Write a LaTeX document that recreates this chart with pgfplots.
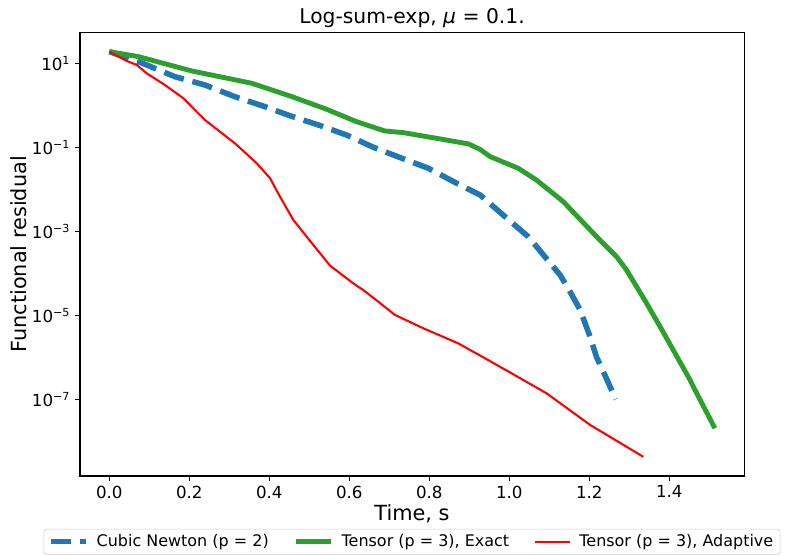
\documentclass[border=0pt]{standalone}
\usepackage{fontspec}
\setmainfont{DejaVu Sans}
\usepackage{pgfplots}
\pgfplotsset{compat=1.18}
\definecolor{c0}{HTML}{1F77B4}
\definecolor{c2}{HTML}{2CA02C}
\begin{document}
\begin{tikzpicture}
\begin{axis}[
  scale only axis, width=478.1pt, height=319.2pt,
  xmin=-0.0733, xmax=1.587,
  ymode=log, ymin=1.49e-9, ymax=53.6,
  axis line style={line width=0.8pt},
  tick align=outside, major tick length=3.5pt,
  tick style={black, line width=0.8pt},
  xtick pos=bottom, ytick pos=left,
  xtick={0,0.2,0.4,0.6,0.8,1.0,1.2,1.4},
  xticklabels={0.0,0.2,0.4,0.6,0.8,1.0,1.2,1.4},
  ytick={1e1,1e-1,1e-3,1e-5,1e-7},
  yticklabels={10\textsuperscript{1},10\textsuperscript{−1},10\textsuperscript{−3},10\textsuperscript{−5},10\textsuperscript{−7}},
  yminorticks=false,
  ticklabel style={font=\fontsize{12}{14}\selectfont},
  xlabel={Time, s},
  ylabel={Functional residual},
  label style={font=\fontsize{15}{18}\selectfont},
  xlabel style={at={(axis description cs:0.5,-0.0993)}, anchor=base},
  ylabel style={at={(axis description cs:-0.092,0.5)}, anchor=center},
  title={Log-sum-exp, {\itshape μ} = 0.1.},
  title style={font=\fontsize{14.6}{17}\selectfont, at={(axis description cs:0.5,1)}, anchor=base, yshift=0.8pt},
  legend style={at={(axis description cs:0.5,-0.119)}, anchor=north, legend columns=3,
    draw=black!20, rounded corners=2pt, font=\fontsize{11.5}{14}\selectfont,
    /tikz/every odd column/.append style={column sep=4pt},
    /tikz/every even column/.append style={column sep=16pt}},
  legend image code/.code={\draw[#1] (0pt,0pt) -- (25pt,0pt);},
]
\addplot[c0, line width=4pt, dash pattern=on 14.8pt off 6.4pt] coordinates {
(0,18.9) (0.0725,11.0) (0.164,4.79) (0.239,3.04) (0.314,1.60) (0.389,0.927)
(0.452,0.562) (0.5225,0.34) (0.593,0.196) (0.66,0.1) (0.731,0.055) (0.7975,0.0316)
(0.8685,0.0139) (0.927,7.31e-3) (0.989,2.24e-3) (1.0475,7.41e-4) (1.127,9.12e-5)
(1.152,3.63e-5) (1.177,1.35e-5) (1.202,3.09e-6) (1.218,1.02e-6) (1.235,4.57e-7) (1.266,1.0e-7)
};
\addlegendentry{Cubic Newton (p = 2)}
\addplot[c2, line width=3.5pt] coordinates {
(0,18.9) (0.0725,14.4) (0.206,6.56) (0.356,3.34) (0.452,1.66) (0.543,0.804)
(0.618,0.407) (0.689,0.244) (0.735,0.223) (0.827,0.158) (0.898,0.12) (0.927,0.089)
(0.952,0.060) (1.0225,0.0316) (1.068,0.0166) (1.135,5.07e-3) (1.2225,6.76e-4)
(1.231,5.6e-4) (1.268,2.5e-4) (1.293,1.2e-4) (1.343,1.95e-5) (1.377,5.37e-6)
(1.452,2.88e-7) (1.46,2.0e-7) (1.514,2.04e-8)
};
\addlegendentry{Tensor (p = 3), Exact}
\addplot[red, line width=1.5pt] coordinates {
(0,18.9) (0.0435,11.35) (0.0685,9.12) (0.0935,5.75) (0.139,3.04) (0.185,1.47)
(0.239,0.447) (0.314,0.124) (0.3685,0.0417) (0.402,0.0182) (0.427,6.61e-3)
(0.46,1.86e-3) (0.4935,7.41e-4) (0.552,1.51e-4) (0.61,5.75e-5) (0.635,3.98e-5)
(0.677,1.95e-5) (0.714,1.02e-5) (0.785,4.9e-6) (0.8725,2.14e-6) (0.9685,6.6e-7)
(1.0935,1.38e-7) (1.202,2.45e-8) (1.335,4.27e-9)
};
\addlegendentry{Tensor (p = 3), Adaptive}
\end{axis}
\pgfresetboundingbox
\path[use as bounding box] ([xshift=-57.6pt,yshift=-57.6pt]current axis.south west) rectangle ([xshift=30.2pt,yshift=23.5pt]current axis.north east);
\end{tikzpicture}
\end{document}
